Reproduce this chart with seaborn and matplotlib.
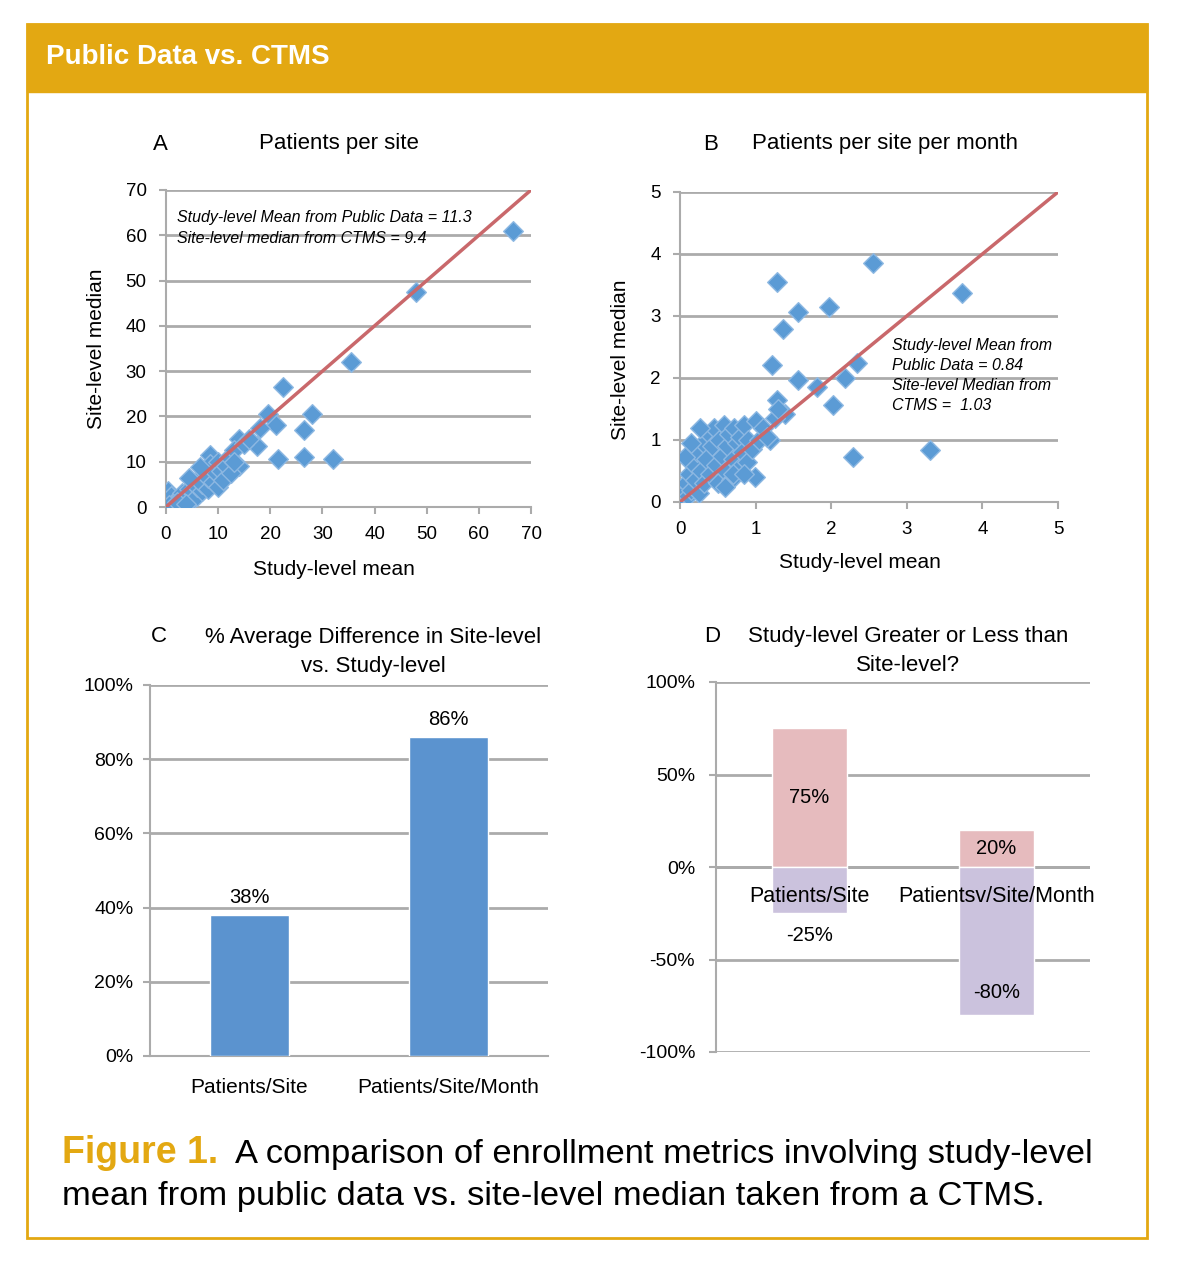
import numpy as np
import pandas as pd
import seaborn as sns
import matplotlib.pyplot as plt
from matplotlib.patches import Rectangle
from matplotlib.ticker import FuncFormatter

# panel A: patients per site
a_mean = [66.5, 48, 35.5, 22.5, 28, 26.5, 19.5, 21, 18, 17.5, 21.5, 26.5, 32, 14, 14, 8.5, 0.3,
          1, 1.5, 2, 2.5, 3, 3, 3.5, 4, 4.5, 5, 5, 5.5, 6, 6, 6.5, 7, 7, 7.5, 8, 8, 8.5, 9, 9.5,
          10, 10, 10.5, 11, 11.5, 12, 12.5, 13, 13, 15, 16, 1.2, 0.6, 2.2, 3.8, 6.5, 4.5]
a_median = [61, 47.5, 32, 26.5, 20.5, 17, 20.5, 18, 17.5, 13.5, 10.5, 11, 10.5, 15, 9, 11.5, 3.5,
            2.5, 1, 0.3, 2, 0.8, 3, 1.8, 2.5, 4, 1.5, 3.5, 5.5, 2.5, 4.5, 6.5, 3.5, 5, 8, 4, 6.5, 9.5, 5.5, 7.5,
            4.5, 10, 8, 6, 9, 11, 7.5, 12.5, 10, 14, 15, 0.2, 0.5, 1.2, 0.6, 8.8, 6.5]

# panel B: patients per site per month
b_mean = [2.55, 1.28, 3.73, 1.56, 1.97, 1.36, 1.22, 2.34, 2.18, 1.56, 1.81, 2.02, 1.28, 1.39, 1.19, 2.29, 3.31, 0.99,
          0.02, 0.05, 0.08, 0.1, 0.12, 0.15, 0.18, 0.2, 0.22, 0.25, 0.28, 0.3, 0.32, 0.35, 0.38, 0.4, 0.42, 0.45,
          0.48, 0.5, 0.52, 0.55, 0.58, 0.6, 0.62, 0.65, 0.68, 0.7, 0.72, 0.75, 0.78, 0.8, 0.82, 0.85, 0.88, 0.9,
          0.95, 1.0, 1.05, 1.1, 1.15, 1.25, 1.3, 0.7, 0.85, 0.6, 0.26, 0.15, 0.07]
b_median = [3.85, 3.55, 3.37, 3.06, 3.15, 2.79, 2.21, 2.24, 2.0, 1.97, 1.86, 1.56, 1.65, 1.42, 1.0, 0.73, 0.84, 0.40,
            0.05, 0.15, 0.3, 0.1, 0.45, 0.2, 0.6, 0.35, 0.8, 0.15, 0.5, 0.95, 0.3, 0.7, 1.1, 0.45, 0.9, 1.2,
            0.6, 0.3, 1.0, 0.75, 1.25, 0.5, 0.9, 1.1, 0.35, 0.7, 1.2, 0.95, 0.55, 1.05, 0.8, 1.25, 0.65, 1.0,
            0.85, 1.3, 1.0, 1.2, 1.05, 1.35, 1.5, 0.45, 0.45, 0.25, 1.2, 0.95, 0.73]

# panel C: % average difference
c_cats = ["Patients/Site", "Patients/Site/Month"]
c_vals = [38, 86]

# panel D: study-level greater or less than site-level
d_cats = ["Patients/Site", "Patientsv/Site/Month"]
d_greater = [75, 20]
d_less = [-25, -80]

GOLD = "#E3A812"
GRID = "#ABABAB"
DOT = "#5B9BD5"
LINE = "#C9686B"

sns.set_theme(style="white")
plt.rcParams['font.family'] = ['Liberation Sans', 'DejaVu Sans']
plt.rcParams['text.color'] = 'black'
plt.rcParams['axes.labelcolor'] = 'black'

W, H = 1182, 1262
fig = plt.figure(figsize=(W / 100, H / 100), dpi=100)


def box(left, top, right, bottom):
    return [left / W, 1 - bottom / H, (right - left) / W, (bottom - top) / H]


def style_axes(ax):
    ax.grid(axis='y', color=GRID, lw=2)
    ax.grid(axis='x', visible=False)
    for s in ['top', 'right']:
        ax.spines[s].set_visible(False)
    for s in ['left', 'bottom']:
        ax.spines[s].set_color(GRID)
        ax.spines[s].set_linewidth(1.5)
    ax.tick_params(axis='both', which='both', length=5, width=1.5, color=GRID, pad=9,
                   labelsize=13.5, labelcolor='black')
    ax.tick_params(axis='x', bottom=True)
    ax.tick_params(axis='y', left=True)
    ax.set_facecolor('white')


# frame and header
fig.patches.append(Rectangle((27 / W, 1 - 1238 / H), 1120 / W, 1214 / H, transform=fig.transFigure,
                             fill=False, edgecolor=GOLD, lw=2))
fig.patches.append(Rectangle((27 / W, 1 - 92 / H), 1120 / W, 68 / H, transform=fig.transFigure,
                             facecolor=GOLD, edgecolor=GOLD))
fig.text(46 / W, 1 - 57 / H, "Public Data vs. CTMS", color='white', fontsize=20, fontweight='bold',
         va='center', ha='left')

# ---- A ----
axA = fig.add_axes(box(166, 190, 531, 507))
sns.scatterplot(x=a_mean, y=a_median, marker='D', s=100, color=DOT, edgecolor='#8DB8E2', linewidth=1,
                ax=axA, zorder=3)
axA.plot([0, 70], [0, 70], color=LINE, lw=2.5, zorder=4)
axA.set_xlim(0, 70)
axA.set_ylim(0, 70)
axA.set_xticks(range(0, 71, 10))
axA.set_yticks(range(0, 71, 10))
style_axes(axA)
axA.set_xlabel("Study-level mean", fontsize=15)
axA.xaxis.set_label_coords(0.46, -0.168)
axA.set_ylabel("Site-level median", fontsize=15, labelpad=14)
axA.text(0.03, 0.912, "Study-level Mean from Public Data = 11.3", transform=axA.transAxes,
         fontsize=11.5, style='italic', va='center')
axA.text(0.03, 0.846, "Site-level median from CTMS = 9.4", transform=axA.transAxes,
         fontsize=11.5, style='italic', va='center')
fig.text(160 / W, 1 - 144 / H, "A", fontsize=16, ha='center', va='center')
fig.text(339 / W, 1 - 144 / H, "Patients per site", fontsize=16, ha='center', va='center')

# ---- B ----
axB = fig.add_axes(box(680, 192, 1058, 502))
sns.scatterplot(x=b_mean, y=b_median, marker='D', s=100, color=DOT, edgecolor='#8DB8E2', linewidth=1,
                ax=axB, zorder=3)
axB.plot([0, 5], [0, 5], color=LINE, lw=2.5, zorder=4)
axB.set_xlim(0, 5)
axB.set_ylim(0, 5)
axB.set_xticks(range(0, 6))
axB.set_yticks(range(0, 6))
style_axes(axB)
axB.set_xlabel("Study-level mean", fontsize=15)
axB.xaxis.set_label_coords(0.476, -0.166)
axB.set_ylabel("Site-level median", fontsize=15)
axB.yaxis.set_label_coords(-0.133, 0.458)
for i, line in enumerate(["Study-level Mean from", "Public Data = 0.84",
                          "Site-level Median from", "CTMS =  1.03"]):
    axB.text(0.561, 0.505 - i * 0.0645, line, transform=axB.transAxes, fontsize=11.5,
             style='italic', va='center')
fig.text(711 / W, 1 - 144 / H, "B", fontsize=16, ha='center', va='center')
fig.text(885 / W, 1 - 144 / H, "Patients per site per month", fontsize=16, ha='center', va='center')

# ---- C ----
axC = fig.add_axes(box(150, 685, 548, 1056))
sns.barplot(x=c_cats, y=c_vals, color="#5B93CF", saturation=1, width=0.4, ax=axC, zorder=3)
axC.set_ylim(0, 100)
axC.set_xlim(-0.5, 1.5)
axC.set_yticks(range(0, 101, 20))
axC.set_xticks([-0.5, 0.5, 1.5], minor=True)
axC.yaxis.set_major_formatter(FuncFormatter(lambda v, p: f"{v:.0f}%"))
style_axes(axC)
axC.tick_params(axis='x', which='major', length=0, pad=16, labelsize=15)
axC.tick_params(axis='y', pad=7, labelsize=14)
for i, v in enumerate(c_vals):
    axC.annotate(f"{v}%", (i, v), xytext=(0, 6), textcoords='offset points', ha='center',
                 va='bottom', fontsize=14.5)
fig.text(159 / W, 1 - 637 / H, "C", fontsize=16, ha='center', va='center')
fig.text(373 / W, 1 - 652 / H, "% Average Difference in Site-level\nvs. Study-level", fontsize=16,
         ha='center', va='center', linespacing=1.45)

# ---- D ----
axD = fig.add_axes(box(716, 682, 1090, 1052))
sns.barplot(x=d_cats, y=d_greater, color="#E6BBBE", saturation=1, width=0.4, ax=axD, zorder=3)
sns.barplot(x=d_cats, y=d_less, color="#CBC2DD", saturation=1, width=0.4, ax=axD, zorder=3)
axD.set_ylim(-100, 100)
axD.set_xlim(-0.5, 1.5)
axD.set_yticks(range(-100, 101, 50))
axD.yaxis.set_major_formatter(FuncFormatter(lambda v, p: f"{v:.0f}%"))
style_axes(axD)
axD.spines['bottom'].set_visible(False)
axD.axhline(0, color=GRID, lw=2, zorder=2)
axD.set_xticks([])
axD.tick_params(axis='y', pad=10, labelsize=14)
for i, v in enumerate(d_greater):
    axD.text(i, v / 2, f"{v}%", ha='center', va='center', fontsize=14.5, zorder=5)
for i, v in enumerate(d_less):
    if abs(v) < 40:
        axD.annotate(f"{v}%", (i, v), xytext=(0, -9), textcoords='offset points', ha='center',
                     va='top', fontsize=14.5, zorder=5)
    else:
        axD.annotate(f"{v}%", (i, v), xytext=(0, 9), textcoords='offset points', ha='center',
                     va='bottom', fontsize=14.5, zorder=5)
for i, c in enumerate(d_cats):
    axD.text(i, -16, c, ha='center', va='center', fontsize=15.5, zorder=5)
fig.text(712 / W, 1 - 637 / H, "D", fontsize=16, ha='center', va='center')
fig.text(908 / W, 1 - 651 / H, "Study-level Greater or Less than\nSite-level?", fontsize=16,
         ha='center', va='center', linespacing=1.45)

# caption
fig.text(62 / W, 1 - 1163 / H, "Figure 1.", color=GOLD, fontsize=27, fontweight='bold',
         ha='left', va='baseline')
fig.text(235 / W, 1 - 1163 / H, "A comparison of enrollment metrics involving study-level",
         fontsize=24.8, ha='left', va='baseline')
fig.text(62 / W, 1 - 1205 / H, "mean from public data vs. site-level median taken from a CTMS.",
         fontsize=24.8, ha='left', va='baseline')

fig.savefig("out.png", dpi=100, facecolor='white')
